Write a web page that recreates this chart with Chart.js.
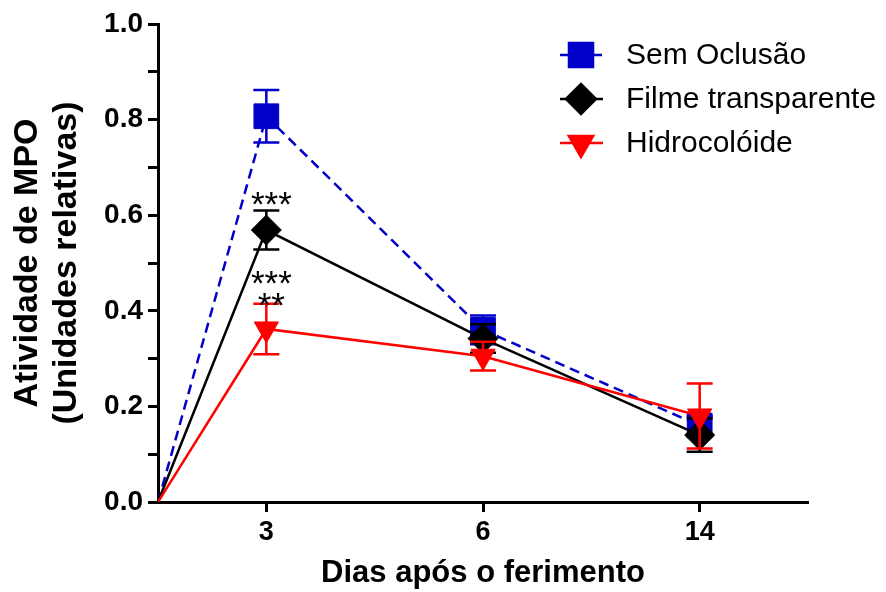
<!DOCTYPE html>
<html lang="pt">
<head>
<meta charset="utf-8">
<title>Atividade de MPO</title>
<script src="https://cdn.jsdelivr.net/npm/chart.js@4.4.1/dist/chart.umd.min.js"></script>
<style>
    html, body { margin: 0; padding: 0; background: #fff; }
    #wrap { width: 886px; height: 592px; }
</style>
</head>
<body>
<div id="wrap"><canvas id="mpoChart" width="886" height="592"></canvas></div>
<script>
// Dias de avaliação (eixo x) e médias +/- erro padrão
const dayLabels = ['3', '6', '14'];

const semOclusao = [0.807, 0.36, 0.16];
const semOclusaoErr = [0.055, 0.03, 0.02];

const filme = [0.569, 0.342, 0.14];
const filmeErr = [0.041, 0.03, 0.035];

const hidrocoloide = [0.362, 0.305, 0.18];
const hidrocoloideErr = [0.053, 0.03, 0.068];

// Marcadores de significância acima dos pontos do dia 3
const starLabels = ['***', '***', '**'];
const starDays = [0, 0, 0];
const starValues = [0.64, 0.476, 0.43];

const yTicks = [0, 0.1, 0.2, 0.3, 0.4, 0.5, 0.6, 0.7, 0.8, 0.9, 1.0];

const BLUE = '#0000C8';
const RED = '#FF0000';
const BLACK = '#000000';

// Dia "0" na origem, depois cada dia no centro da sua faixa
function buildPoints(values) {
    const pts = [{ x: 0, y: 0 }];
    values.forEach((v, i) => pts.push({ x: i + 0.5, y: v }));
    return pts;
}

const errorBarsPlugin = {
    id: 'errorBars',
    afterDatasetDraw(chart, args) {
        const ds = chart.data.datasets[args.index];
        if (!ds.errors) return;
        const ctx = chart.ctx;
        const xs = chart.scales.x;
        const ys = chart.scales.y;
        ctx.save();
        ctx.strokeStyle = ds.borderColor;
        ctx.lineWidth = 2.5;
        ctx.setLineDash([]);
        ds.data.forEach((pt, i) => {
            const err = ds.errors[i];
            if (!err) return;
            const x = xs.getPixelForValue(pt.x);
            const yTop = ys.getPixelForValue(pt.y + err);
            const yBot = ys.getPixelForValue(pt.y - err);
            ctx.beginPath();
            ctx.moveTo(x, yTop);
            ctx.lineTo(x, yBot);
            ctx.moveTo(x - 13, yTop);
            ctx.lineTo(x + 13, yTop);
            ctx.moveTo(x - 13, yBot);
            ctx.lineTo(x + 13, yBot);
            ctx.stroke();
        });
        ctx.restore();
    }
};

const starsPlugin = {
    id: 'stars',
    afterDraw(chart) {
        const ctx = chart.ctx;
        const xs = chart.scales.x;
        const ys = chart.scales.y;
        const size = 35;
        ctx.save();
        ctx.fillStyle = BLACK;
        ctx.font = size + "px 'Liberation Sans', Arial, sans-serif";
        ctx.textAlign = 'center';
        ctx.textBaseline = 'alphabetic';
        starLabels.forEach((txt, i) => {
            const x = xs.getPixelForValue(starDays[i] + 0.5) + 5;
            const y = ys.getPixelForValue(starValues[i]);
            ctx.fillText(txt, x, y + 0.58 * size);
        });
        ctx.restore();
    }
};

// Legenda desenhada à mão para mostrar a linha tracejada com o marcador
const legendPlugin = {
    id: 'customLegend',
    afterDraw(chart) {
        const ctx = chart.ctx;
        const order = [0, 1, 2];
        ctx.save();
        order.forEach((di, row) => {
            const ds = chart.data.datasets[di];
            const y = 55 + row * 44;
            ctx.strokeStyle = ds.borderColor;
            ctx.lineWidth = ds.borderWidth;
            ctx.setLineDash(ds.borderDash || []);
            ctx.beginPath();
            ctx.moveTo(560, y);
            ctx.lineTo(603, y);
            ctx.stroke();
            ctx.setLineDash([]);
            ctx.fillStyle = ds.backgroundColor;
            Chart.helpers.drawPoint(ctx, {
                pointStyle: ds.pointStyle,
                rotation: ds.pointRotation || 0,
                radius: ds.legendRadius,
                borderWidth: 1
            }, 581, y);
            ctx.fillStyle = BLACK;
            ctx.font = "30px 'Liberation Sans', Arial, sans-serif";
            ctx.textAlign = 'left';
            ctx.textBaseline = 'middle';
            ctx.fillText(ds.label, 626, y + 1);
        });
        ctx.restore();
    }
};

const ctx = document.getElementById('mpoChart').getContext('2d');

new Chart(ctx, {
    type: 'line',
    data: {
        datasets: [
            {
                label: 'Sem Oclusão',
                data: buildPoints(semOclusao),
                errors: [0, ...semOclusaoErr],
                borderColor: BLUE,
                backgroundColor: BLUE,
                borderWidth: 2.5,
                borderDash: [10, 6],
                pointStyle: 'rect',
                pointRadius: [0, 17.5, 17.5, 17.5],
                legendRadius: 17,
                pointBorderWidth: 1,
                tension: 0,
                order: 2
            },
            {
                label: 'Filme transparente',
                data: buildPoints(filme),
                errors: [0, ...filmeErr],
                borderColor: BLACK,
                backgroundColor: BLACK,
                borderWidth: 2.5,
                pointStyle: 'rectRot',
                pointRadius: [0, 15, 15, 15],
                legendRadius: 15,
                pointBorderWidth: 1,
                tension: 0,
                order: 1
            },
            {
                label: 'Hidrocolóide',
                data: buildPoints(hidrocoloide),
                errors: [0, ...hidrocoloideErr],
                borderColor: RED,
                backgroundColor: RED,
                borderWidth: 2.5,
                pointStyle: 'triangle',
                pointRotation: 180,
                pointRadius: [0, 14, 14, 14],
                legendRadius: 14,
                pointBorderWidth: 1,
                tension: 0,
                order: 0
            }
        ]
    },
    options: {
        responsive: false,
        animation: false,
        events: [],
        layout: {
            padding: { top: 24, right: 78, bottom: 0, left: 0 }
        },
        plugins: {
            legend: { display: false },
            tooltip: { enabled: false }
        },
        scales: {
            x: {
                type: 'linear',
                min: 0,
                max: 3,
                afterFit: scale => { scale.height = 90; },
                afterBuildTicks: scale => {
                    scale.ticks = dayLabels.map((d, i) => ({ value: i + 0.5 }));
                },
                ticks: {
                    autoSkip: false,
                    maxRotation: 0,
                    color: BLACK,
                    padding: 4,
                    font: { size: 27, weight: 'bold' },
                    callback: (value, index) => dayLabels[index]
                },
                grid: {
                    drawOnChartArea: false,
                    drawTicks: true,
                    tickLength: 10,
                    tickWidth: 3,
                    tickColor: BLACK
                },
                border: { color: BLACK, width: 3 },
                title: {
                    display: true,
                    text: 'Dias após o ferimento',
                    color: BLACK,
                    font: { size: 31, weight: 'bold', lineHeight: 1.2 },
                    padding: { top: 0, bottom: 0 }
                }
            },
            y: {
                min: 0,
                max: 1,
                afterFit: scale => { scale.width = 158; },
                afterBuildTicks: scale => {
                    scale.ticks = yTicks.map(v => ({ value: v }));
                },
                ticks: {
                    autoSkip: false,
                    color: BLACK,
                    padding: 5,
                    font: { size: 28, weight: 'bold' },
                    callback: value => {
                        const tenths = Math.round(value * 10);
                        return tenths % 2 === 0 ? value.toFixed(1) : '';
                    }
                },
                grid: {
                    drawOnChartArea: false,
                    drawTicks: true,
                    tickLength: 10,
                    tickWidth: 3,
                    tickColor: BLACK
                },
                border: { color: BLACK, width: 3 },
                title: {
                    display: true,
                    text: ['Atividade de MPO', '(Unidades relativas)'],
                    color: BLACK,
                    font: { size: 34, weight: 'bold', lineHeight: 1.15 },
                    padding: { top: 8, bottom: 0 }
                }
            }
        }
    },
    plugins: [errorBarsPlugin, starsPlugin, legendPlugin]
});
</script>
</body>
</html>
